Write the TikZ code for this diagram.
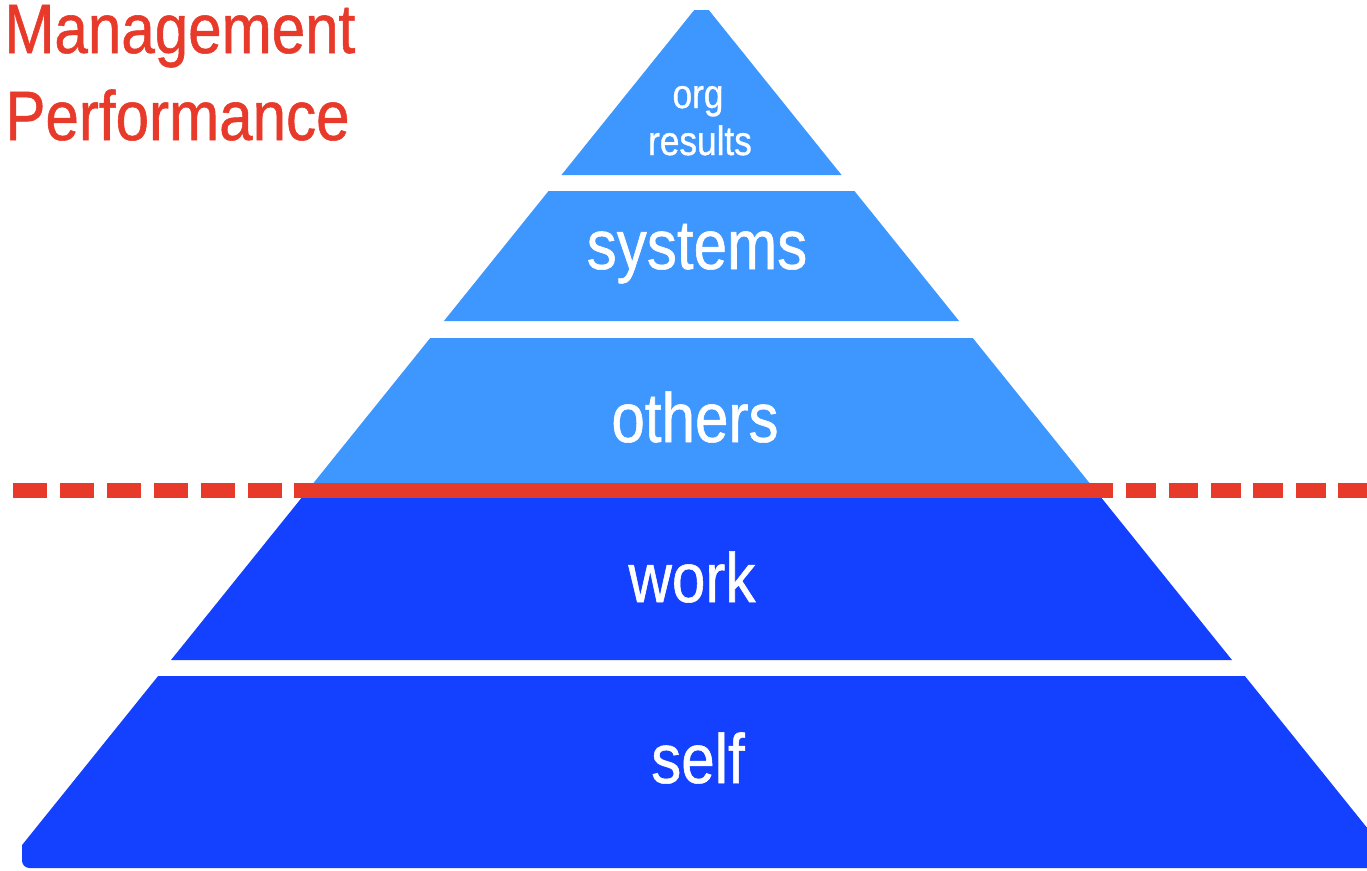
\documentclass[tikz,border=0pt]{standalone}
\usepackage{fontspec}
\setmainfont{Liberation Sans}
\newfontfamily\narrowfont{Liberation Sans}[FakeStretch=0.86,FakeBold=0.8]
\definecolor{lightband}{RGB}{62,150,255}
\definecolor{darkband}{RGB}{20,64,255}
\definecolor{mgred}{RGB}{232,58,42}
\tikzset{
  lbl/.style={text=white,inner sep=0pt,anchor=base,font=\narrowfont\fontsize{39.8}{44}\selectfont},
  smalllbl/.style={lbl,font=\narrowfont\fontsize{23.3}{26}\selectfont},
  title/.style={text=mgred,inner sep=0pt,anchor=base west,font=\narrowfont\fontsize{39.8}{44}\selectfont},
  redline/.style={draw=mgred,line width=0.3cm}
}
\begin{document}
\begin{tikzpicture}[x=0.02cm,y=-0.02cm]
	\def\cx{701.5} % centre of the pyramid
	\def\s{0.805}  % half width per unit of height
	\useasboundingbox (0,0) rectangle (1367,870);
	\begin{scope}
		\clip[rounded corners=0.15cm] (22,0) rectangle (1400,868);
		\foreach \ya/\yb/\col in {10/175/lightband,191/321/lightband,338/490/lightband,490/660/darkband,676/868/darkband}
			\fill[\col] ({\cx-\s*(\ya-1)},\ya) -- ({\cx+\s*(\ya-1)},\ya) -- ({\cx+\s*(\yb-1)},\yb) -- ({\cx-\s*(\yb-1)},\yb) -- cycle;
	\end{scope}
	% divider
	\draw[redline] (294,490) -- (1113,490);
	\draw[redline,dash pattern=on 0.68cm off 0.26cm] (13,490) -- (294,490);
	\draw[redline,dash pattern=on 0.6cm off 0.25cm] (1126,490) -- (1367,490);
	% labels
	\node[smalllbl] (org) at (698,108) {org};
	\node[smalllbl] (results) at (700,155) {results};
	\node[lbl] (systems) at (697,269) {systems};
	\node[lbl] (others) at (695,442) {others};
	\node[lbl] (work) at (692,602) {work};
	\node[lbl] (self) at (698,783) {self};
	\node[title] (mgmt) at (4,53) {Management};
	\node[title] (perf) at (5,140) {Performance};
\end{tikzpicture}
\end{document}
